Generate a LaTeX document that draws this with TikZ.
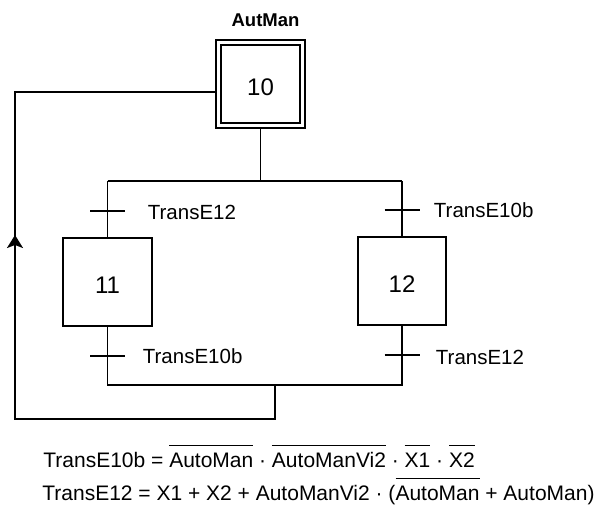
\documentclass[tikz,border=0pt]{standalone}
\usepackage{fontspec}
\setmainfont{Liberation Sans}
\usetikzlibrary{arrows.meta}

% text with a bar over it (negated signal)
\newsavebox\ovlbox
\newcommand\ovl[1]{\leavevmode\sbox\ovlbox{#1}\rlap{\rule[1.0em]{\wd\ovlbox}{0.07em}}\usebox\ovlbox}

\tikzset{
  x=1pt, y=-1pt,
  every path/.style={line width=1.8pt, line join=miter},
  stepbox/.style={draw, line width=1.8pt, inner sep=0pt,
    minimum width=88pt, minimum height=88pt,
    text height=22pt, text depth=0pt,
    font=\fontsize{24}{28}\selectfont},
  initstep/.style={stepbox, double, double distance=3.2pt,
    minimum width=84pt, minimum height=83pt, outer sep=3.4pt},
  translabel/.style={anchor=base west, inner sep=0pt,
    font=\fontsize{20.5}{24}\selectfont},
  eqline/.style={anchor=base west, inner sep=0pt,
    font=\fontsize{21}{25}\selectfont},
  tick/.style={line width=1.8pt}
}

\begin{document}
\begin{tikzpicture}
\useasboundingbox (0,0) rectangle (596,507);

% steps
\node[initstep] (s10) at (260.5,84) {10};
\node[anchor=base, inner sep=0pt, font=\bfseries\fontsize{18.5}{22}\selectfont] (title) at (265.5,26.7) {AutMan};
\node[stepbox, minimum width=89pt] (s11) at (107.5,282) {11};
\node[stepbox] (s12) at (402,281) {12};

% divergence and convergence lines
\coordinate (topL) at (107.5,181);
\coordinate (topR) at (402,181);
\coordinate (botL) at (107.5,385);
\coordinate (botR) at (402,385);
\draw (s10.south) -- (s10.south |- topL);
\draw (topL) -- (topR);
\draw (topL) -- (s11.north);
\draw (topR) -- (s12.north);
\draw (s11.south) -- (botL) -- (botR) -- (s12.south);

% transitions
\coordinate (t1) at (107.5,211);
\coordinate (t2) at (107.5,356);
\coordinate (t3) at (402,210);
\coordinate (t4) at (402,355);
\foreach \t in {t1,t2,t3,t4}
  \draw[tick] ([xshift=-17.5pt]\t) -- ([xshift=17.5pt]\t);
\node[translabel] (l1) at (147,219) {TransE12};
\node[translabel] (l2) at (142,363.5) {TransE10b};
\node[translabel] (l3) at (433,217.7) {TransE10b};
\node[translabel] (l4) at (435,364) {TransE12};

% return loop to the initial step
\coordinate (lpA) at (275,385);
\coordinate (lpB) at (275,419);
\coordinate (lpC) at (15,419);
\coordinate (lpD) at (15,92);
\coordinate (arrowTip) at (15,235);
\draw (lpA) -- (lpB) -- (lpC) -- (lpD) -- (lpD -| s10.west);
\draw[-{Stealth[length=13pt,width=16pt,inset=3pt]}] (lpC) -- (arrowTip);

% transition conditions
\node[eqline] (eq1) at (42.5,467.3)
  {TransE10b = \ovl{AutoMan} · \ovl{AutoManVi2} · \ovl{X1} · \ovl{X2}};
\node[eqline] (eq2) at (41.5,500)
  {TransE12 = X1 + X2 + AutoManVi2 · (\ovl{AutoMan} + AutoMan)};
\end{tikzpicture}
\end{document}
